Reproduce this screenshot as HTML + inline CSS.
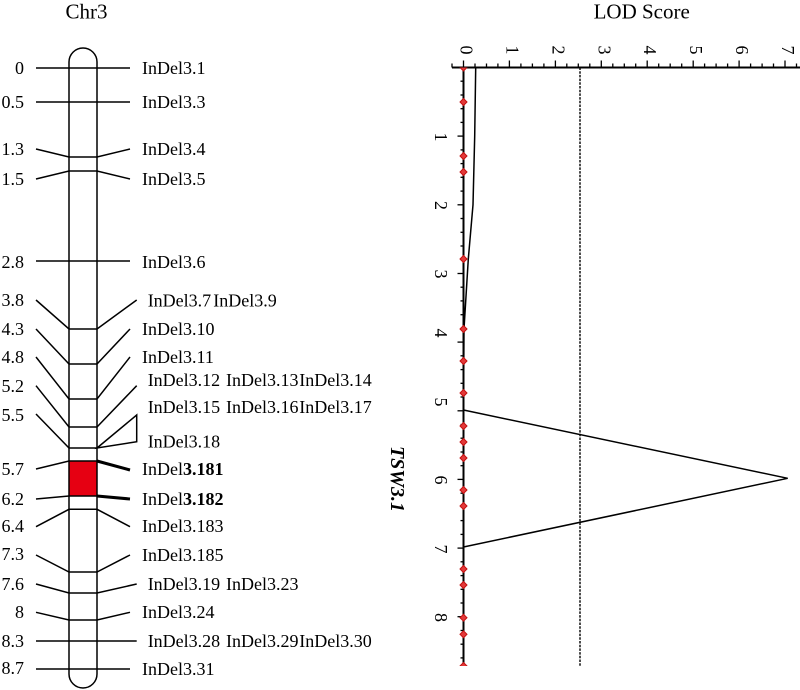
<!DOCTYPE html>
<html>
<head>
<meta charset="utf-8">
<style>
html,body{margin:0;padding:0;background:#fff;}
svg{display:block;}
text{font-family:"Liberation Serif",serif;fill:#000;}
</style>
</head>
<body>
<svg width="800" height="690" viewBox="0 0 800 690" xmlns="http://www.w3.org/2000/svg">
<defs>
<clipPath id="plotclip"><rect x="440" y="67.5" width="360" height="598.5"/></clipPath>
</defs>

<!-- Titles -->
<text x="86.5" y="18.5" font-size="21" text-anchor="middle">Chr3</text>
<text x="641.7" y="18.5" font-size="21" text-anchor="middle">LOD Score</text>

<!-- Chromosome -->
<rect x="69" y="461" width="28" height="35" fill="#e60012"/>
<path d="M69,674 L69,62 A14,14 0 0 1 97,62 L97,674 A14,14 0 0 1 69,674 Z" fill="none" stroke="#000" stroke-width="1.5"/>

<g stroke="#000" stroke-width="1.5" fill="none">
<!-- 0, 0.5 -->
<line x1="36" y1="68" x2="130" y2="68"/>
<line x1="36" y1="102" x2="130" y2="102"/>
<!-- 1.3 -->
<polyline points="36,149 69,157 97,157 130,149"/>
<!-- 1.5 -->
<polyline points="36,179 69,171 97,171 130,179"/>
<!-- 2.8 -->
<line x1="36" y1="261" x2="130" y2="261"/>
<!-- 3.8 -->
<polyline points="36,300 69,329 97,329 136.7,300"/>
<!-- 4.3 -->
<polyline points="36,329 69,364 97,364 130,329"/>
<!-- 4.8 -->
<polyline points="36,357 69,399 97,399 130,357"/>
<!-- 5.2 -->
<polyline points="36,385.7 69,427 97,427 136.7,385.7"/>
<!-- 5.5 -->
<polyline points="36,414 69,448 97,448"/>
<polygon points="97,448 136.7,415 136.7,441.7"/>
<!-- 5.7 left -->
<polyline points="36,469 69,461 97,461"/>
<!-- 6.2 left -->
<polyline points="36,499 69,496 97,496"/>
<!-- 6.4 -->
<polyline points="36,526.7 69,509.3 97,509.3 130,526.7"/>
<!-- 7.3 -->
<polyline points="36,555 69,572 97,572 130,555"/>
<!-- 7.6 -->
<polyline points="36,584 69,593 97,593 136.7,584"/>
<!-- 8 -->
<polyline points="36,612.3 69,620 97,620 130,612.3"/>
<!-- 8.3 -->
<line x1="36" y1="641" x2="136.7" y2="641"/>
<!-- 8.7 -->
<line x1="36" y1="669" x2="130" y2="669"/>
</g>
<g stroke="#000" stroke-width="3" fill="none">
<line x1="97" y1="461" x2="130" y2="470"/>
<line x1="97" y1="496" x2="130" y2="499"/>
</g>

<!-- Left positions -->
<g font-size="18" text-anchor="end">
<text x="24" y="74">0</text>
<text x="24" y="108">0.5</text>
<text x="24" y="155">1.3</text>
<text x="24" y="185">1.5</text>
<text x="24" y="268">2.8</text>
<text x="24" y="306">3.8</text>
<text x="24" y="335">4.3</text>
<text x="24" y="363">4.8</text>
<text x="24" y="392">5.2</text>
<text x="24" y="421">5.5</text>
<text x="24" y="475">5.7</text>
<text x="24" y="505">6.2</text>
<text x="24" y="532">6.4</text>
<text x="24" y="560">7.3</text>
<text x="24" y="590">7.6</text>
<text x="24" y="618">8</text>
<text x="24" y="647">8.3</text>
<text x="24" y="674">8.7</text>
</g>

<!-- Marker names -->
<g font-size="18">
<text x="142" y="74">InDel3.1</text>
<text x="142" y="108">InDel3.3</text>
<text x="142" y="155">InDel3.4</text>
<text x="142" y="185">InDel3.5</text>
<text x="142" y="268">InDel3.6</text>
<text x="147.7" y="306.5">InDel3.7</text>
<text x="213.3" y="306.5">InDel3.9</text>
<text x="142" y="335">InDel3.10</text>
<text x="142" y="363">InDel3.11</text>
<text x="147.7" y="386">InDel3.12</text>
<text x="226" y="386">InDel3.13</text>
<text x="299.3" y="386">InDel3.14</text>
<text x="147.7" y="413">InDel3.15</text>
<text x="226" y="413">InDel3.16</text>
<text x="299.3" y="413">InDel3.17</text>
<text x="147.7" y="447.5">InDel3.18</text>
<text x="142" y="475">InDel<tspan font-weight="bold">3.181</tspan></text>
<text x="142" y="505">InDel<tspan font-weight="bold">3.182</tspan></text>
<text x="142" y="532">InDel3.183</text>
<text x="142" y="561">InDel3.185</text>
<text x="147.7" y="590">InDel3.19</text>
<text x="226" y="590">InDel3.23</text>
<text x="142" y="618">InDel3.24</text>
<text x="147.7" y="647">InDel3.28</text>
<text x="226" y="647">InDel3.29</text>
<text x="299.3" y="647">InDel3.30</text>
<text x="142" y="675">InDel3.31</text>
</g>

<!-- LOD chart -->
<!-- threshold dashed -->
<line x1="580" y1="67.5" x2="580" y2="666" stroke="#000" stroke-width="1.4" stroke-dasharray="2.5,1.2"/>

<!-- top axis ticks -->
<g stroke="#000" stroke-width="1.3">
<line x1="452" y1="63.5" x2="452" y2="67.5"/>
<line x1="463.5" y1="60.5" x2="463.5" y2="67.5"/>
<line x1="475" y1="63.5" x2="475" y2="67.5"/>
<line x1="486.5" y1="63.5" x2="486.5" y2="67.5"/>
<line x1="497.9" y1="63.5" x2="497.9" y2="67.5"/>
<line x1="509.4" y1="60.5" x2="509.4" y2="67.5"/>
<line x1="520.9" y1="63.5" x2="520.9" y2="67.5"/>
<line x1="532.4" y1="63.5" x2="532.4" y2="67.5"/>
<line x1="543.9" y1="63.5" x2="543.9" y2="67.5"/>
<line x1="555.4" y1="60.5" x2="555.4" y2="67.5"/>
<line x1="566.8" y1="63.5" x2="566.8" y2="67.5"/>
<line x1="578.3" y1="63.5" x2="578.3" y2="67.5"/>
<line x1="589.8" y1="63.5" x2="589.8" y2="67.5"/>
<line x1="601.3" y1="60.5" x2="601.3" y2="67.5"/>
<line x1="612.8" y1="63.5" x2="612.8" y2="67.5"/>
<line x1="624.3" y1="63.5" x2="624.3" y2="67.5"/>
<line x1="635.7" y1="63.5" x2="635.7" y2="67.5"/>
<line x1="647.2" y1="60.5" x2="647.2" y2="67.5"/>
<line x1="658.7" y1="63.5" x2="658.7" y2="67.5"/>
<line x1="670.2" y1="63.5" x2="670.2" y2="67.5"/>
<line x1="681.7" y1="63.5" x2="681.7" y2="67.5"/>
<line x1="693.2" y1="60.5" x2="693.2" y2="67.5"/>
<line x1="704.6" y1="63.5" x2="704.6" y2="67.5"/>
<line x1="716.1" y1="63.5" x2="716.1" y2="67.5"/>
<line x1="727.6" y1="63.5" x2="727.6" y2="67.5"/>
<line x1="739.1" y1="60.5" x2="739.1" y2="67.5"/>
<line x1="750.6" y1="63.5" x2="750.6" y2="67.5"/>
<line x1="762.1" y1="63.5" x2="762.1" y2="67.5"/>
<line x1="773.5" y1="63.5" x2="773.5" y2="67.5"/>
<line x1="785" y1="60.5" x2="785" y2="67.5"/>
<line x1="796.5" y1="63.5" x2="796.5" y2="67.5"/>
</g>

<!-- left axis ticks (every 0.2 cM) -->
<g stroke="#000" stroke-width="1.3">
<line x1="460.5" y1="81.2" x2="463.5" y2="81.2"/>
<line x1="460.5" y1="95" x2="463.5" y2="95"/>
<line x1="460.5" y1="108.7" x2="463.5" y2="108.7"/>
<line x1="460.5" y1="122.4" x2="463.5" y2="122.4"/>
<line x1="457.5" y1="136.1" x2="463.5" y2="136.1"/>
<line x1="460.5" y1="149.9" x2="463.5" y2="149.9"/>
<line x1="460.5" y1="163.6" x2="463.5" y2="163.6"/>
<line x1="460.5" y1="177.3" x2="463.5" y2="177.3"/>
<line x1="460.5" y1="191.1" x2="463.5" y2="191.1"/>
<line x1="457.5" y1="204.8" x2="463.5" y2="204.8"/>
<line x1="460.5" y1="218.5" x2="463.5" y2="218.5"/>
<line x1="460.5" y1="232.3" x2="463.5" y2="232.3"/>
<line x1="460.5" y1="246" x2="463.5" y2="246"/>
<line x1="460.5" y1="259.7" x2="463.5" y2="259.7"/>
<line x1="457.5" y1="273.5" x2="463.5" y2="273.5"/>
<line x1="460.5" y1="287.2" x2="463.5" y2="287.2"/>
<line x1="460.5" y1="300.9" x2="463.5" y2="300.9"/>
<line x1="460.5" y1="314.7" x2="463.5" y2="314.7"/>
<line x1="460.5" y1="328.4" x2="463.5" y2="328.4"/>
<line x1="457.5" y1="342.1" x2="463.5" y2="342.1"/>
<line x1="460.5" y1="355.8" x2="463.5" y2="355.8"/>
<line x1="460.5" y1="369.6" x2="463.5" y2="369.6"/>
<line x1="460.5" y1="383.3" x2="463.5" y2="383.3"/>
<line x1="460.5" y1="397" x2="463.5" y2="397"/>
<line x1="457.5" y1="410.8" x2="463.5" y2="410.8"/>
<line x1="460.5" y1="424.5" x2="463.5" y2="424.5"/>
<line x1="460.5" y1="438.2" x2="463.5" y2="438.2"/>
<line x1="460.5" y1="452" x2="463.5" y2="452"/>
<line x1="460.5" y1="465.7" x2="463.5" y2="465.7"/>
<line x1="457.5" y1="479.4" x2="463.5" y2="479.4"/>
<line x1="460.5" y1="493.2" x2="463.5" y2="493.2"/>
<line x1="460.5" y1="506.9" x2="463.5" y2="506.9"/>
<line x1="460.5" y1="520.6" x2="463.5" y2="520.6"/>
<line x1="460.5" y1="534.4" x2="463.5" y2="534.4"/>
<line x1="457.5" y1="548.1" x2="463.5" y2="548.1"/>
<line x1="460.5" y1="561.8" x2="463.5" y2="561.8"/>
<line x1="460.5" y1="575.6" x2="463.5" y2="575.6"/>
<line x1="460.5" y1="589.3" x2="463.5" y2="589.3"/>
<line x1="460.5" y1="603" x2="463.5" y2="603"/>
<line x1="457.5" y1="616.7" x2="463.5" y2="616.7"/>
<line x1="460.5" y1="630.5" x2="463.5" y2="630.5"/>
<line x1="460.5" y1="644.2" x2="463.5" y2="644.2"/>
<line x1="460.5" y1="657.9" x2="463.5" y2="657.9"/>
</g>

<!-- axes -->
<line x1="452" y1="67.5" x2="800" y2="67.5" stroke="#000" stroke-width="2"/>
<line x1="463.5" y1="67.5" x2="463.5" y2="666" stroke="#000" stroke-width="2"/>

<!-- LOD curve -->
<polyline points="475.7,67.5 474.7,136 473,204.8 468.3,259 464,329 463.5,410 787.7,478.3 463.5,547 463.5,666" fill="none" stroke="#000" stroke-width="1.5"/>

<!-- marker diamonds -->
<g clip-path="url(#plotclip)" fill="#e23a3a" stroke="#c41010" stroke-width="1">
<polygon points="463.5,64 467,67.5 463.5,71 460,67.5"/>
<polygon points="463.5,98.5 467,102 463.5,105.5 460,102"/>
<polygon points="463.5,152.5 467,156 463.5,159.5 460,156"/>
<polygon points="463.5,168.5 467,172 463.5,175.5 460,172"/>
<polygon points="463.5,255.5 467,259 463.5,262.5 460,259"/>
<polygon points="463.5,325.5 467,329 463.5,332.5 460,329"/>
<polygon points="463.5,357.5 467,361 463.5,364.5 460,361"/>
<polygon points="463.5,389.5 467,393 463.5,396.5 460,393"/>
<polygon points="463.5,422.5 467,426 463.5,429.5 460,426"/>
<polygon points="463.5,438.5 467,442 463.5,445.5 460,442"/>
<polygon points="463.5,454.5 467,458 463.5,461.5 460,458"/>
<polygon points="463.5,486.5 467,490 463.5,493.5 460,490"/>
<polygon points="463.5,502.5 467,506 463.5,509.5 460,506"/>
<polygon points="463.5,565.5 467,569 463.5,572.5 460,569"/>
<polygon points="463.5,581.5 467,585 463.5,588.5 460,585"/>
<polygon points="463.5,614.2 467,617.7 463.5,621.2 460,617.7"/>
<polygon points="463.5,630.8 467,634.3 463.5,637.8 460,634.3"/>
<polygon points="463.5,662.5 467,666 463.5,669.5 460,666"/>
</g>

<!-- top tick labels (rotated) -->
<g font-size="18" text-anchor="middle">
<text transform="translate(466.5,50) rotate(90)" dy="0.33em">0</text>
<text transform="translate(512.4,50) rotate(90)" dy="0.33em">1</text>
<text transform="translate(558.4,50) rotate(90)" dy="0.33em">2</text>
<text transform="translate(604.3,50) rotate(90)" dy="0.33em">3</text>
<text transform="translate(650.2,50) rotate(90)" dy="0.33em">4</text>
<text transform="translate(696.2,50) rotate(90)" dy="0.33em">5</text>
<text transform="translate(742.1,50) rotate(90)" dy="0.33em">6</text>
<text transform="translate(788,50) rotate(90)" dy="0.33em">7</text>
</g>

<!-- left tick labels (rotated) -->
<g font-size="18" text-anchor="middle">
<text transform="translate(441,137) rotate(90)" dy="0.33em">1</text>
<text transform="translate(441,205.5) rotate(90)" dy="0.33em">2</text>
<text transform="translate(441,274) rotate(90)" dy="0.33em">3</text>
<text transform="translate(441,333) rotate(90)" dy="0.33em">4</text>
<text transform="translate(441,402) rotate(90)" dy="0.33em">5</text>
<text transform="translate(441,480) rotate(90)" dy="0.33em">6</text>
<text transform="translate(441,549) rotate(90)" dy="0.33em">7</text>
<text transform="translate(441,617.5) rotate(90)" dy="0.33em">8</text>
</g>

<!-- QTL label -->
<text transform="translate(397.5,479) rotate(90)" dy="0.33em" font-size="20" font-weight="bold" font-style="italic" text-anchor="middle">TSW3.1</text>
</svg>
</body>
</html>
